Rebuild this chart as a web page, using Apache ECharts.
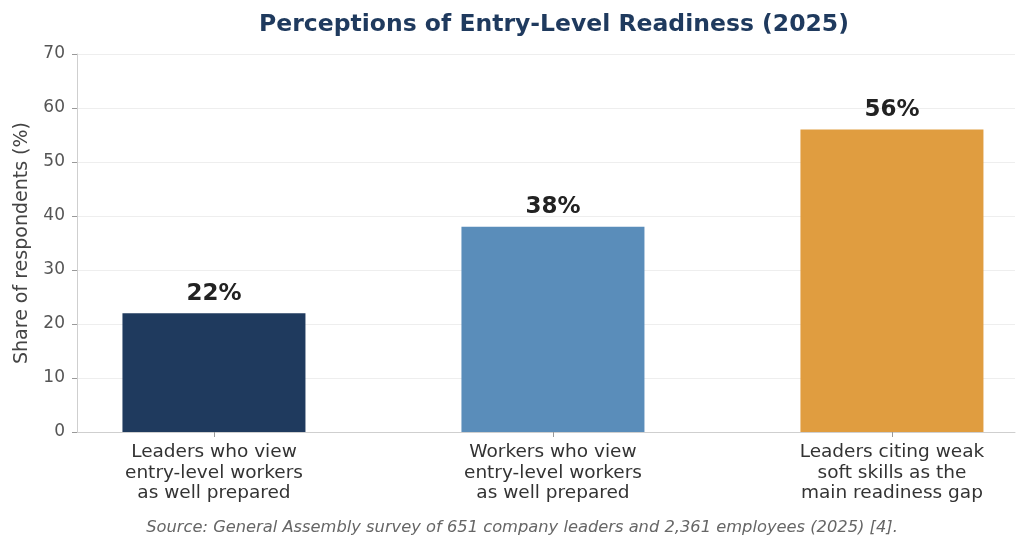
<!DOCTYPE html>
<html>
<head>
<meta charset="utf-8">
<script src="https://cdn.jsdelivr.net/npm/echarts@6/dist/echarts.min.js"></script>
<style>
  html, body { margin: 0; padding: 0; background: #fff; }
  #chart { width: 1017px; height: 535px; }
</style>
</head>
<body>
<div id="chart"></div>
<script>
// chart data
const categories = [
  'Leaders who view\nentry-level workers\nas well prepared',
  'Workers who view\nentry-level workers\nas well prepared',
  'Leaders citing weak\nsoft skills as the\nmain readiness gap'
]
const values = [22, 38, 56]
const barColors = ['#1f3a5e', '#5a8dba', '#e09d40']
const yTicks = [0, 10, 20, 30, 40, 50, 60, 70]

const font = 'DejaVu Sans'
const chart = echarts.init(document.getElementById('chart'))

chart.setOption({
  backgroundColor: '#fff',
  animation: false,
  title: [{
    text: 'Perceptions of Entry-Level Readiness (2025)',
    left: 549,
    top: 8,
    textAlign: 'center',
    textStyle: { fontFamily: font, fontSize: 23.5, fontWeight: 'bold', color: '#1f3a5e' }
  }, {
    text: 'Source: General Assembly survey of 651 company leaders and 2,361 employees (2025) [4].',
    left: 517,
    top: 515,
    textAlign: 'center',
    textStyle: { fontFamily: font, fontSize: 16.3, fontStyle: 'italic', fontWeight: 'normal', color: '#666' }
  }],
  grid: { left: 77, right: 2, top: 54, bottom: 103, containLabel: false },
  xAxis: {
    type: 'value',
    min: -0.404,
    max: 2.363,
    splitLine: { show: false },
    axisLine: { lineStyle: { color: '#cfcfcf', width: 1 } },
    axisTick: { customValues: [0, 1, 2], length: 5, lineStyle: { color: '#999' } },
    axisLabel: {
      customValues: [0, 1, 2],
      formatter: v => categories[Math.round(v)],
      fontFamily: font, fontSize: 18.5, color: '#333', lineHeight: 20.5, margin: 10
    }
  },
  yAxis: {
    type: 'value',
    min: 0,
    max: 70,
    interval: 10,
    name: 'Share of respondents (%)',
    nameLocation: 'middle',
    nameGap: 45,
    nameTextStyle: { fontFamily: font, fontSize: 19, color: '#444' },
    axisLine: { show: true, onZero: false, lineStyle: { color: '#cfcfcf' } },
    axisTick: { show: true, length: 5, lineStyle: { color: '#999' } },
    axisLabel: {
      fontFamily: font, fontSize: 17, color: '#555', margin: 12,
      customValues: yTicks
    },
    splitLine: { lineStyle: { color: '#eeeeee', width: 1 } }
  },
  series: [{
    type: 'bar',
    barWidth: 183,
    data: values.map((v, i) => ({ value: [i, v], itemStyle: { color: barColors[i] } })),
    label: {
      show: true,
      position: 'top',
      distance: 8,
      formatter: p => p.value[1] + '%',
      fontFamily: font, fontSize: 23, fontWeight: 'bold', color: '#222'
    }
  }]
})
</script>
</body>
</html>
